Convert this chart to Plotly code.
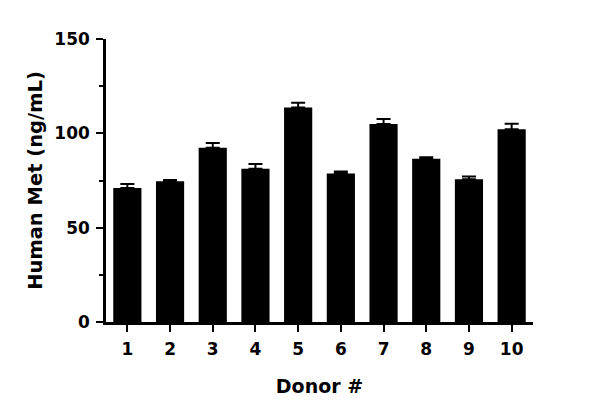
import plotly.graph_objects as go

donors = ["1", "2", "3", "4", "5", "6", "7", "8", "9", "10"]
met_mean = [71.0, 74.6, 92.4, 81.2, 113.7, 78.7, 105.0, 86.5, 75.7, 102.1]
met_err = [2.1, 0.6, 2.5, 2.6, 2.5, 1.1, 2.6, 0.8, 1.4, 3.0]
y_ticks = [0, 50, 100, 150]

FONT = "DejaVu Sans"

fig = go.Figure()
fig.add_trace(go.Bar(
    x=list(range(1, len(donors) + 1)),
    y=met_mean,
    width=0.66,
    marker=dict(color="black", line=dict(width=0)),
    error_y=dict(type="data", array=met_err, arrayminus=[0] * len(met_err),
                 symmetric=False, color="black", thickness=2, width=7),
))

# the page body adds an 8px offset, so margins are compensated
fig.update_layout(
    width=600, height=419,
    margin=dict(l=98, r=75, t=31, b=105),
    plot_bgcolor="white", paper_bgcolor="white",
    showlegend=False,
    font=dict(family=FONT, color="black", size=17, weight="bold"),
)
fig.update_xaxes(
    range=[0.5, 10.5],
    automargin=False,
    tickmode="array",
    tickvals=list(range(1, len(donors) + 1)),
    ticktext=donors,
    showline=True, linecolor="black", linewidth=2.5,
    ticks="outside", ticklen=7, tickwidth=2, tickcolor="black",
    showgrid=False, zeroline=False,
    tickfont=dict(family=FONT, size=17, weight="bold"),
    ticklabelstandoff=3,
    title=dict(text="Donor #", font=dict(family=FONT, size=19, weight="bold"), standoff=22),
)
fig.update_yaxes(
    range=[0, 150],
    automargin=False,
    tickmode="array", tickvals=y_ticks, ticktext=[str(v) for v in y_ticks],
    showline=True, linecolor="black", linewidth=2.5,
    ticks="outside", ticklen=7, tickwidth=2, tickcolor="black",
    minor=dict(tickvals=[25, 75, 125], ticks="outside", ticklen=4, tickwidth=2, tickcolor="black"),
    showgrid=False, zeroline=False,
    tickfont=dict(family=FONT, size=17, weight="bold"),
    ticklabelstandoff=3,
    title=dict(text="Human Met (ng/mL)", font=dict(family=FONT, size=19.5, weight="bold"), standoff=7),
)

fig.write_html("out.html")
